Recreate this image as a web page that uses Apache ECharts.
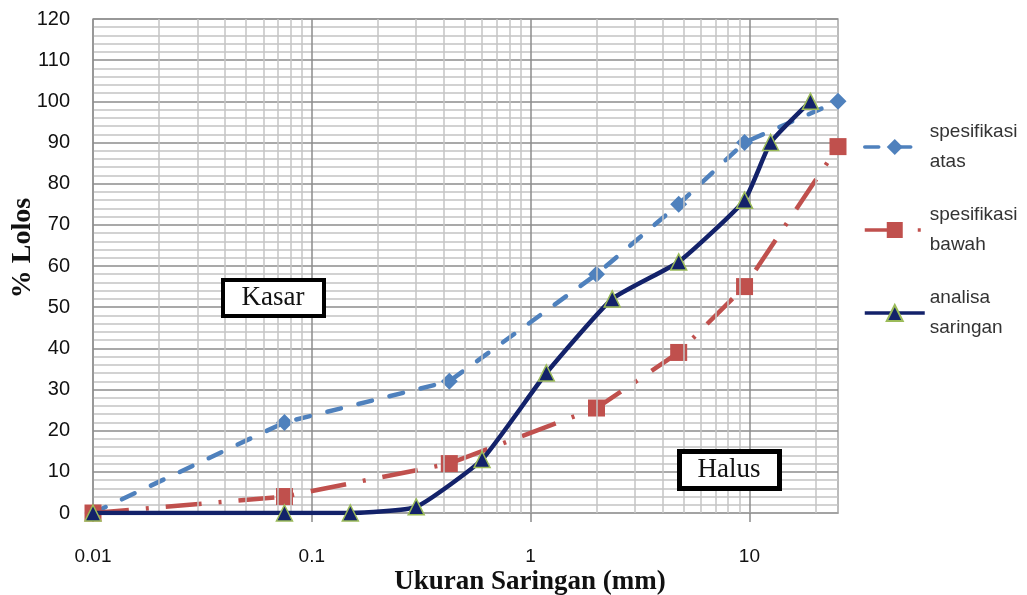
<!DOCTYPE html>
<html>
<head>
<meta charset="utf-8">
<script src="https://cdn.jsdelivr.net/npm/echarts@6/dist/echarts.min.js"></script>
<style>
html,body{margin:0;padding:0;background:#fff;}
#chart{width:1027px;height:595px;}
</style>
</head>
<body>
<div id="chart"></div>
<script>
// ---- data ----
const seriesNames = ['spesifikasi atas', 'spesifikasi bawah', 'analisa saringan'];
const sieveAtas = [0.01, 0.075, 0.425, 2.0, 4.75, 9.5, 25.4];
const atas = [0, 22, 32, 58, 75, 90, 100];
const sieveBawah = [0.01, 0.075, 0.425, 2.0, 4.75, 9.5, 25.4];
const bawah = [0, 4, 12, 25.5, 39, 55, 89];
const sieveAnalisa = [0.01, 0.075, 0.15, 0.3, 0.6, 1.18, 2.36, 4.75, 9.5, 12.5, 19];
const analisa = [0, 0, 0, 1.5, 13, 34, 52, 61, 76, 90, 100];
const xTickValues = [0.01, 0.1, 1, 10];
const xTickLabels = ['0.01', '0.1', '1', '10'];
const xMinorGrid = [0.02,0.03,0.04,0.05,0.06,0.07,0.08,0.09,
                    0.2,0.3,0.4,0.5,0.6,0.7,0.8,0.9,
                    2,3,4,5,6,7,8,9,20];
const xMin = 0.01, xMax = 25.4;
const yMin = 0, yMax = 120, yStep = 10;
const annotations = ['Kasar', 'Halus'];
const xTitle = 'Ukuran Saringan (mm)';
const yTitle = '% Lolos';

function pairs(xs, ys) { return xs.map((x, i) => [x, ys[i]]); }
function tickLabel(v) {
  for (let i = 0; i < xTickValues.length; i++) {
    if (Math.abs(Math.log10(v) - Math.log10(xTickValues[i])) < 1e-6) return xTickLabels[i];
  }
  return '';
}

const chart = echarts.init(document.getElementById('chart'), null, {renderer: 'canvas'});

const legendCommon = {
  orient: 'vertical', left: 863, padding: 0,
  itemWidth: 60, itemHeight: 20,
  lineStyle: {width: 3.5},
  formatter: n => n.replace(' ', '\n'),
  textStyle: {fontFamily: 'Liberation Sans', fontSize: 19, color: '#333', lineHeight: 30, padding: [30, 0, 0, 0]}
};

const option = {
  animation: false,
  backgroundColor: '#ffffff',
  grid: {left: 93, right: 189, top: 19, bottom: 82, show: true, borderColor: '#a6a6a6', borderWidth: 1.5, containLabel: false},
  legend: [
    Object.assign({}, legendCommon, {top: 102, data: [seriesNames[0]]}),
    Object.assign({}, legendCommon, {top: 185, data: [seriesNames[1]]}),
    Object.assign({}, legendCommon, {top: 268, data: [seriesNames[2]]})
  ],
  xAxis: {
    type: 'log', logBase: 10, min: xMin, max: xMax,
    axisLine: {show: true, lineStyle: {color: '#a6a6a6', width: 1.5}},
    axisTick: {show: true, length: 9, customValues: xTickValues, lineStyle: {color: '#8c8c8c', width: 1.5}},
    axisLabel: {show: true, customValues: xTickValues, margin: 34, formatter: v => tickLabel(v),
      fontFamily: 'Liberation Sans', fontSize: 19, color: '#111'},
    splitLine: {show: true, lineStyle: {color: '#8c8c8c', width: 1.5}}
  },
  yAxis: {
    type: 'value', min: yMin, max: yMax, interval: yStep,
    axisLine: {show: false}, axisTick: {show: false},
    axisLabel: {margin: 23, fontFamily: 'Liberation Sans', fontSize: 20, color: '#111'},
    splitLine: {show: true, lineStyle: {color: '#8c8c8c', width: 1.5}},
    minorTick: {show: false, splitNumber: 5},
    minorSplitLine: {show: true, lineStyle: {color: '#c4c4c4', width: 1.5}}
  },
  series: [
    {
      type: 'line', name: '__grid', z: 1, data: [], silent: true,
      markLine: {
        silent: true, symbol: ['none', 'none'], label: {show: false},
        lineStyle: {color: '#c4c4c4', width: 1.5, type: 'solid'},
        emphasis: {disabled: true},
        data: xMinorGrid.map(v => ({xAxis: v}))
      }
    },
    {
      type: 'line', name: seriesNames[0], z: 3,
      data: pairs(sieveAtas, atas),
      symbol: 'diamond', symbolSize: 17,
      itemStyle: {color: '#4f81bd'},
      lineStyle: {color: '#4f81bd', width: 4.5, type: [14, 18], cap: 'round'}
    },
    {
      type: 'line', name: seriesNames[1], z: 4,
      data: pairs(sieveBawah, bawah),
      symbol: 'rect', symbolSize: 17,
      itemStyle: {color: '#c0504d'},
      lineStyle: {color: '#c0504d', width: 4.5, type: [36, 17, 3, 17]}
    },
    {
      type: 'line', name: seriesNames[2], z: 5,
      data: pairs(sieveAnalisa, analisa),
      smooth: 0.15,
      symbol: 'triangle', symbolSize: 16,
      itemStyle: {color: '#13226a', borderColor: '#9bbb59', borderWidth: 1.5},
      lineStyle: {color: '#13226a', width: 4.5, type: 'solid'}
    }
  ],
  graphic: [
    {type: 'rect', z: 100, shape: {x: 223, y: 280, width: 101, height: 36},
     style: {fill: '#fff', stroke: '#000', lineWidth: 4}},
    {type: 'text', z: 101, x: 273, y: 298,
     style: {text: annotations[0], font: '27px "Liberation Serif"', fill: '#111', align: 'center', verticalAlign: 'middle'}},
    {type: 'rect', z: 100, shape: {x: 679.5, y: 451.5, width: 100, height: 37},
     style: {fill: '#fff', stroke: '#000', lineWidth: 5}},
    {type: 'text', z: 101, x: 729, y: 470,
     style: {text: annotations[1], font: '27px "Liberation Serif"', fill: '#111', align: 'center', verticalAlign: 'middle'}},
    {type: 'text', z: 101, x: 530, y: 582,
     style: {text: xTitle, font: 'bold 27px "Liberation Serif"', fill: '#111', align: 'center', verticalAlign: 'middle'}},
    {type: 'text', z: 101, x: 23, y: 248, rotation: Math.PI / 2,
     style: {text: yTitle, font: 'bold 28px "Liberation Serif"', fill: '#111', align: 'center', verticalAlign: 'middle'}}
  ]
};
chart.setOption(option);
</script>
</body>
</html>
